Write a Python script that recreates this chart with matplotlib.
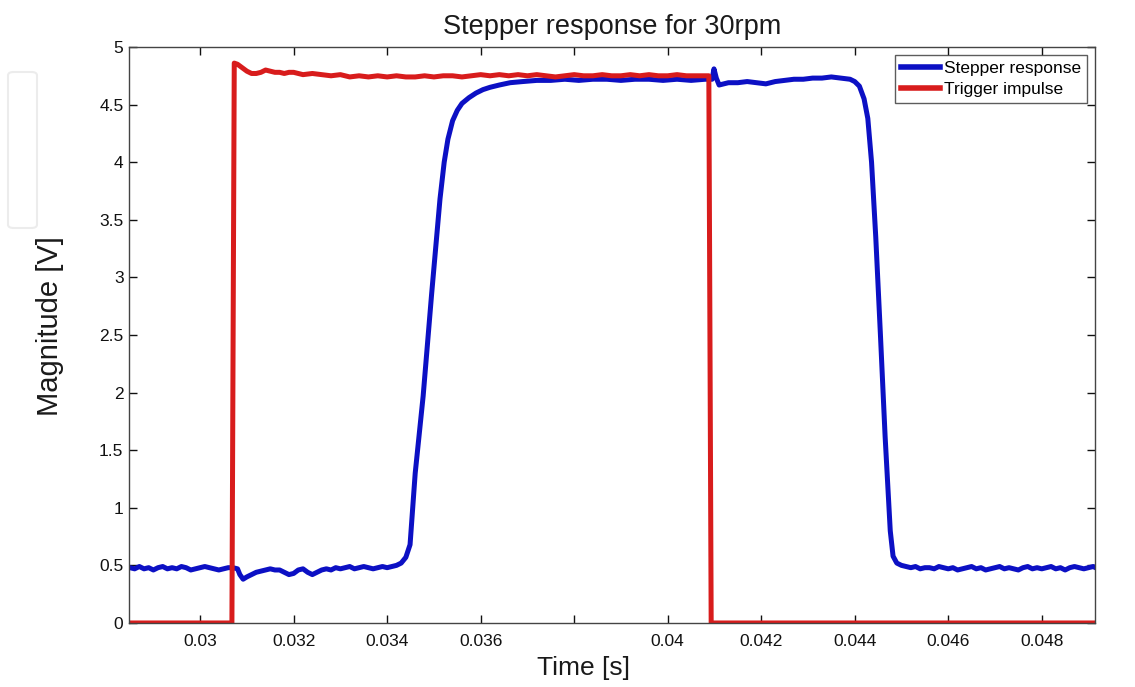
import matplotlib
matplotlib.use('Agg')
import matplotlib.pyplot as plt
from matplotlib.patches import FancyBboxPatch

# ---- data (time in s, magnitude in V) ----
stepper_t = [
    0.0285, 0.0286, 0.0287, 0.0288, 0.0289, 0.0290, 0.0291, 0.0292, 0.0293, 0.0294,
    0.0295, 0.0296, 0.0297, 0.0298, 0.0299, 0.0300, 0.0301, 0.0302, 0.0303, 0.0304,
    0.0305, 0.0306, 0.0307, 0.03080, 0.03085, 0.03092, 0.0310, 0.0311, 0.0312, 0.0313,
    0.0314, 0.0315, 0.0316, 0.0317, 0.0318, 0.0319, 0.0320, 0.0321, 0.0322, 0.0323,
    0.0324, 0.0325, 0.0326, 0.0327, 0.0328, 0.0329, 0.0330, 0.0331, 0.0332, 0.0333,
    0.0334, 0.0335, 0.0336, 0.0337, 0.0338, 0.0339, 0.0340, 0.0341, 0.0342, 0.0343,
    0.0344, 0.03449, 0.03460, 0.03477, 0.03495, 0.03513, 0.03522, 0.03530, 0.03540, 0.03550,
    0.03560, 0.03575, 0.03590, 0.03605, 0.0362, 0.0364, 0.03663, 0.0369, 0.0372, 0.0375,
    0.0378, 0.0381, 0.0384, 0.0387, 0.0390, 0.0393, 0.0396, 0.0399, 0.0402, 0.0405,
    0.0408, 0.04095, 0.04099, 0.04104, 0.04110, 0.0412, 0.0413, 0.0415, 0.0417, 0.0419,
    0.0421, 0.0423, 0.0425, 0.0427, 0.0429, 0.0431, 0.0433, 0.0435, 0.0437, 0.0439,
    0.04400, 0.04410, 0.04420, 0.04428, 0.04436, 0.04445, 0.04455, 0.04465, 0.04476, 0.04482,
    0.04490, 0.0450, 0.0451, 0.0452, 0.0453, 0.0454, 0.0455, 0.0456, 0.0457, 0.0458,
    0.0459, 0.0460, 0.0461, 0.0462, 0.0463, 0.0464, 0.0465, 0.0466, 0.0467, 0.0468,
    0.0469, 0.0470, 0.0471, 0.0472, 0.0473, 0.0474, 0.0475, 0.0476, 0.0477, 0.0478,
    0.0479, 0.0480, 0.0481, 0.0482, 0.0483, 0.0484, 0.0485, 0.0486, 0.0487, 0.0488,
    0.0489, 0.0490, 0.0491, 0.0492,
]
stepper_v = [
    0.48, 0.47, 0.49, 0.47, 0.48, 0.46, 0.48, 0.49, 0.47, 0.48,
    0.47, 0.49, 0.48, 0.46, 0.47, 0.48, 0.49, 0.48, 0.47, 0.46,
    0.47, 0.48, 0.48, 0.47, 0.42, 0.38, 0.40, 0.42, 0.44, 0.45,
    0.46, 0.47, 0.46, 0.46, 0.44, 0.42, 0.43, 0.46, 0.47, 0.44,
    0.42, 0.44, 0.46, 0.47, 0.46, 0.48, 0.47, 0.48, 0.49, 0.47,
    0.48, 0.49, 0.48, 0.47, 0.48, 0.49, 0.48, 0.49, 0.50, 0.52,
    0.57, 0.68, 1.30, 1.97, 2.85, 3.68, 4.00, 4.20, 4.36, 4.45,
    4.51, 4.56, 4.60, 4.63, 4.65, 4.67, 4.69, 4.70, 4.71, 4.71,
    4.72, 4.71, 4.72, 4.72, 4.71, 4.72, 4.72, 4.71, 4.72, 4.71,
    4.72, 4.72, 4.81, 4.73, 4.67, 4.68, 4.69, 4.69, 4.70, 4.69,
    4.68, 4.70, 4.71, 4.72, 4.72, 4.73, 4.73, 4.74, 4.73, 4.72,
    4.70, 4.66, 4.55, 4.38, 4.00, 3.35, 2.50, 1.62, 0.80, 0.58,
    0.52, 0.50, 0.49, 0.48, 0.49, 0.47, 0.48, 0.48, 0.47, 0.49,
    0.48, 0.47, 0.48, 0.46, 0.47, 0.48, 0.49, 0.47, 0.48, 0.46,
    0.47, 0.48, 0.49, 0.47, 0.48, 0.47, 0.46, 0.48, 0.49, 0.47,
    0.48, 0.47, 0.48, 0.49, 0.47, 0.48, 0.46, 0.48, 0.49, 0.48,
    0.47, 0.48, 0.49, 0.47,
]

trigger_t = [
    0.0285, 0.03068, 0.03073, 0.0308, 0.0309, 0.0310, 0.0311, 0.0312, 0.0313, 0.0314,
    0.0315, 0.0316, 0.0317, 0.0318, 0.0319, 0.0320, 0.0322, 0.0324, 0.0326, 0.0328,
    0.0330, 0.0332, 0.0334, 0.0336, 0.0338, 0.0340, 0.0342, 0.0344, 0.0346, 0.0348,
    0.0350, 0.0352, 0.0354, 0.0356, 0.0358, 0.0360, 0.0362, 0.0364, 0.0366, 0.0368,
    0.0370, 0.0372, 0.0374, 0.0376, 0.0378, 0.0380, 0.0382, 0.0384, 0.0386, 0.0388,
    0.0390, 0.0392, 0.0394, 0.0396, 0.0398, 0.0400, 0.0402, 0.0404, 0.0406, 0.04088,
    0.04093, 0.0492,
]
trigger_v = [
    0.0, 0.0, 4.86, 4.85, 4.82, 4.79, 4.77, 4.77, 4.78, 4.80,
    4.79, 4.78, 4.78, 4.77, 4.78, 4.78, 4.76, 4.77, 4.76, 4.75,
    4.76, 4.74, 4.75, 4.74, 4.75, 4.74, 4.75, 4.74, 4.74, 4.75,
    4.74, 4.75, 4.75, 4.74, 4.75, 4.76, 4.75, 4.76, 4.75, 4.76,
    4.75, 4.76, 4.75, 4.74, 4.75, 4.76, 4.75, 4.75, 4.76, 4.75,
    4.75, 4.76, 4.75, 4.76, 4.75, 4.75, 4.76, 4.75, 4.75, 4.75,
    0.0, 0.0,
]

x_ticks = [0.030, 0.032, 0.034, 0.036, 0.038, 0.040, 0.042, 0.044, 0.046, 0.048]
x_ticklabels = ['0.03', '0.032', '0.034', '0.036', '', '0.04', '0.042', '0.044', '0.046', '0.048']
y_ticks = [0, 0.5, 1, 1.5, 2, 2.5, 3, 3.5, 4, 4.5, 5]
y_ticklabels = ['0', '0.5', '1', '1.5', '2', '2.5', '3', '3.5', '4', '4.5', '5']

plt.rcParams['font.family'] = ['Liberation Sans', 'DejaVu Sans']

fig = plt.figure(figsize=(11.35, 6.87), dpi=100)
ax = fig.add_axes([0.1137, 0.0932, 0.8511, 0.8384])

ax.plot(stepper_t, stepper_v, color='#0c10c4', lw=3.6, label='Stepper response', solid_joinstyle='round')
ax.plot(trigger_t, trigger_v, color='#d81c1c', lw=3.6, label='Trigger impulse', solid_joinstyle='round')

ax.set_xlim(0.02848, 0.04914)
ax.set_ylim(0, 5)
ax.set_xticks(x_ticks)
ax.set_xticklabels(x_ticklabels)
ax.set_yticks(y_ticks)
ax.set_yticklabels(y_ticklabels)
ax.tick_params(direction='in', length=6, width=1, top=True, right=True,
               labelsize=12.5, colors='#111111')
ax.tick_params(axis='x', pad=8)
ax.tick_params(axis='y', pad=4)

for s in ax.spines.values():
    s.set_color('#444444')
    s.set_linewidth(1)

ax.set_title('Stepper response for 30rpm', fontsize=19.5, color='#1a1a1a', pad=9)
ax.set_xlabel('Time [s]', fontsize=19, color='#1a1a1a')
ax.xaxis.set_label_coords(0.470, -0.058)
ax.set_ylabel('Magnitude [V]', fontsize=21, color='#1a1a1a')
ax.yaxis.set_label_coords(-0.067, 0.516)

leg = ax.legend(loc='upper right', fontsize=12.5, frameon=True, fancybox=False,
                handlelength=2.2, handletextpad=0.25, borderpad=0.35, labelspacing=0.35,
                borderaxespad=0.45)
leg.get_frame().set_edgecolor('#333333')
leg.get_frame().set_linewidth(1)
for line in leg.get_lines():
    line.set_linewidth(4)

# faint watermark shape at the left edge of the reference
fig.patches.append(FancyBboxPatch((8 / 1135, 1 - 228 / 687), 29 / 1135, 156 / 687,
                                  boxstyle='round,pad=0,rounding_size=0.005',
                                  transform=fig.transFigure, fill=False,
                                  edgecolor='#ececec', lw=1.5))

fig.savefig('out.png', dpi=100)
